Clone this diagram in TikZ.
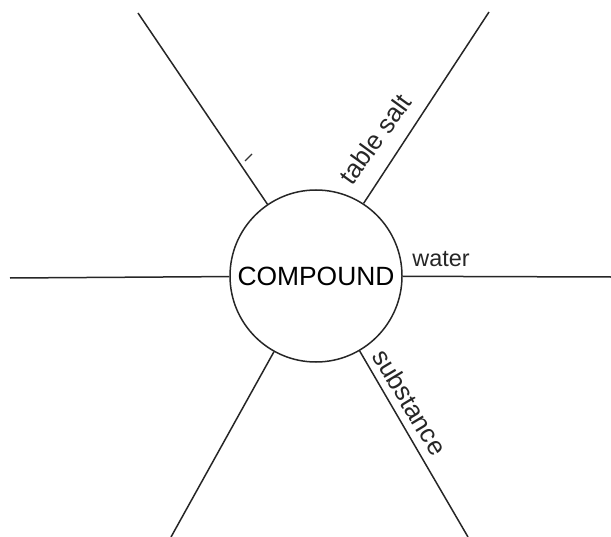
\documentclass[tikz,border=0pt]{standalone}
\usepackage{fontspec}
\setmainfont{Liberation Sans}
\begin{document}
\begin{tikzpicture}[x=1bp,y=-1bp,
  spoke/.style={line width=1.5bp, draw=black!85},
  hub/.style={circle, draw=black!85, line width=1.5bp, minimum size=172bp, inner sep=0pt,
    font=\fontsize{26.5}{26.5}\selectfont},
  lbl/.style={inner sep=0pt, text=black!85}]
\useasboundingbox (0,0) rectangle (611,537);
\node[hub] (c) at (316,276) {COMPOUND};
\coordinate (ul) at (138,13);
\coordinate (ur) at (489,12);
\coordinate (l) at (10,278);
\coordinate (r) at (611,277);
\coordinate (ll) at (171,537);
\coordinate (lr) at (468,537);
\draw[spoke] (c) -- (ul);
\draw[spoke] (c) -- (ur);
\draw[spoke] (c) -- (l);
\draw[spoke] (c) -- (r);
\draw[spoke] (c) -- (ll);
\draw[spoke] (c) -- (lr);
\coordinate (t1) at (245,161);
\coordinate (t2) at (252,154);
\draw[line width=1.3bp, black!80] (t1) -- (t2);
\node[lbl, font=\fontsize{23.5}{23.5}\selectfont] (w) at (441,259) {water};
\node[lbl, font=\fontsize{26}{26}\selectfont, rotate=54] (ts) at (375,139) {table salt};
\node[lbl, font=\fontsize{26}{26}\selectfont, rotate=-59] (sb) at (410,402) {substance};
\end{tikzpicture}
\end{document}
